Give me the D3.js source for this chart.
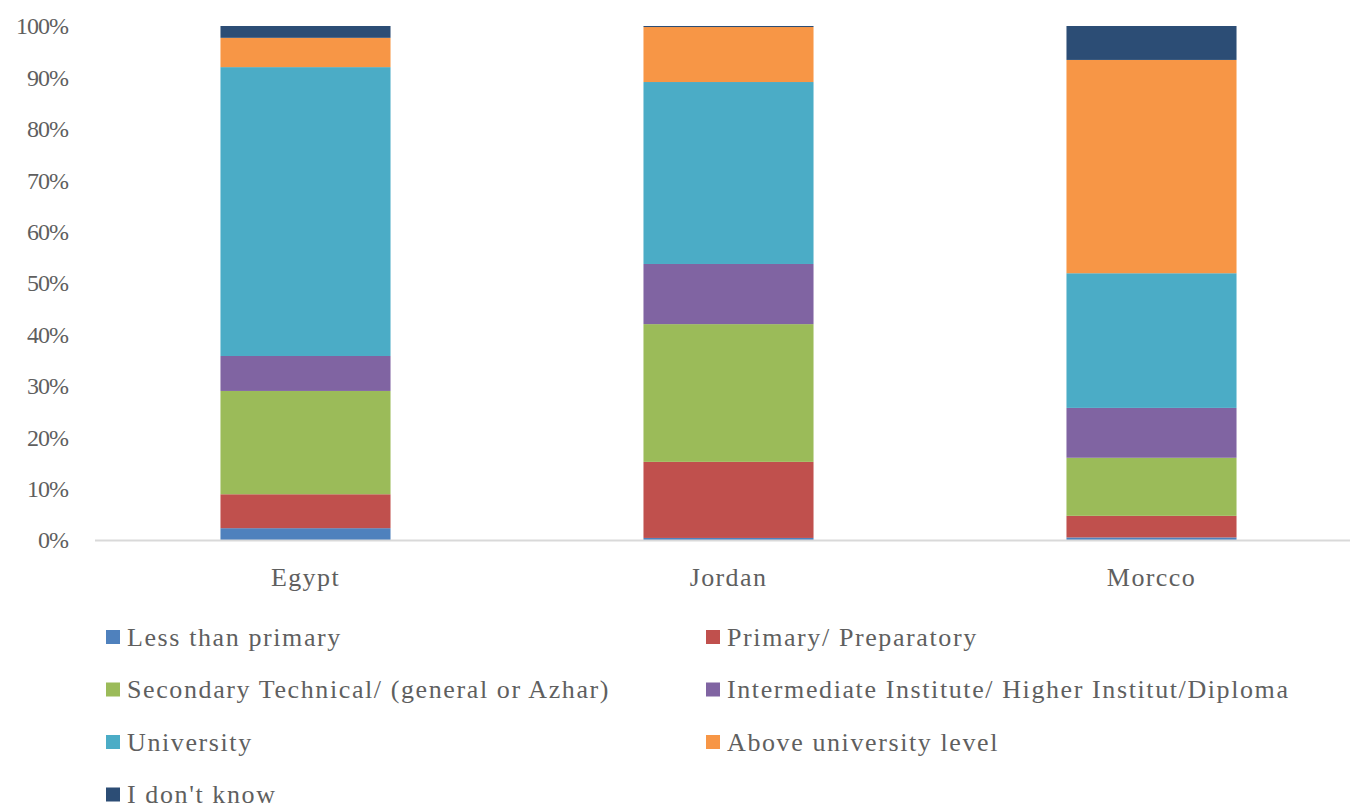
<!DOCTYPE html>
<html>
<head>
<meta charset="utf-8">
<script src="https://cdnjs.cloudflare.com/ajax/libs/d3/7.8.5/d3.min.js"></script>
<style>
  body { margin: 0; background: #fff; }
  text { font-family: "Liberation Serif", "DejaVu Serif", serif; fill: #5f5f5f; }
</style>
</head>
<body>
<div id="chart"></div>
<script>
// countries on the x axis
var countries = ["Egypt", "Jordan", "Morcco"];

// education levels, bottom to top of each stack
var levels = [
  "Less than primary",
  "Primary/ Preparatory",
  "Secondary Technical/ (general or Azhar)",
  "Intermediate Institute/ Higher Institut/Diploma",
  "University",
  "Above university level",
  "I don't know"
];

// percentage per level, one value per country (Egypt, Jordan, Morcco)
var lessThanPrimary = [2.3, 0.4, 0.5];
var primaryPrep     = [6.6, 14.8, 4.2];
var secondary       = [20.1, 26.8, 11.3];
var intermediate    = [6.8, 11.7, 9.7];
var university      = [56.2, 35.4, 26.2];
var aboveUniversity = [5.7, 10.7, 41.5];
var dontKnow        = [2.3, 0.2, 6.6];

var yTicks = [0, 10, 20, 30, 40, 50, 60, 70, 80, 90, 100];

var colors = ["#4f81bd", "#c0504d", "#9bbb59", "#8064a2", "#4bacc6", "#f79646", "#2c4d75"];

var series = [lessThanPrimary, primaryPrep, secondary, intermediate, university, aboveUniversity, dontKnow];

// build rows for d3.stack
var rows = countries.map(function(c, i) {
  var r = { country: c };
  levels.forEach(function(l, j) { r[l] = series[j][i]; });
  return r;
});

var width = 1353, height = 809;
var svg = d3.select("#chart").append("svg")
  .attr("width", width)
  .attr("height", height);

var x = d3.scaleBand()
  .domain(countries)
  .range([94, 1363])
  .paddingInner(0.598)
  .paddingOuter(0.299);

var y = d3.scaleLinear()
  .domain([0, 100])
  .range([540, 26]);

var stacked = d3.stack().keys(levels).offset(d3.stackOffsetExpand)(rows);

// y tick labels (no axis line, no gridlines)
svg.append("g").selectAll("text")
  .data(yTicks)
  .enter().append("text")
    .attr("x", 68)
    .attr("y", function(d) { return y(d); })
    .attr("dy", "0.35em")
    .attr("text-anchor", "end")
    .style("font-size", "24px")
    .style("letter-spacing", "-1px")
    .text(function(d) { return d + "%"; });

// bars
svg.append("g").selectAll("g")
  .data(stacked)
  .enter().append("g")
    .attr("fill", function(d, i) { return colors[i]; })
  .selectAll("rect")
  .data(function(d) { return d; })
  .enter().append("rect")
    .attr("x", function(d) { return x(d.data.country); })
    .attr("width", x.bandwidth())
    .attr("y", function(d) { return y(d[1] * 100); })
    .attr("height", function(d) { return y(d[0] * 100) - y(d[1] * 100); });

// x axis line
svg.append("line")
  .attr("x1", 95).attr("x2", 1350)
  .attr("y1", 540.5).attr("y2", 540.5)
  .attr("stroke", "#d9d9d9")
  .attr("stroke-width", 2);

// category labels
svg.append("g").selectAll("text")
  .data(countries)
  .enter().append("text")
    .attr("x", function(d) { return x(d) + x.bandwidth() / 2; })
    .attr("y", 586)
    .attr("text-anchor", "middle")
    .style("font-size", "26px")
    .style("letter-spacing", "1.4px")
    .text(function(d) { return d; });

// legend, two columns
var legend = svg.append("g").selectAll("g")
  .data(levels)
  .enter().append("g")
    .attr("transform", function(d, i) {
      var col = i % 2, row = Math.floor(i / 2);
      return "translate(" + (col === 0 ? 106 : 706) + "," + (637 + row * 52.5) + ")";
    });

legend.append("rect")
  .attr("x", 0).attr("y", -7)
  .attr("width", 14).attr("height", 14)
  .attr("fill", function(d, i) { return colors[i]; });

legend.append("text")
  .attr("x", 21)
  .attr("dy", "0.33em")
  .style("font-size", "26px")
  .style("letter-spacing", "1.6px")
  .text(function(d) { return d; });
</script>
</body>
</html>
